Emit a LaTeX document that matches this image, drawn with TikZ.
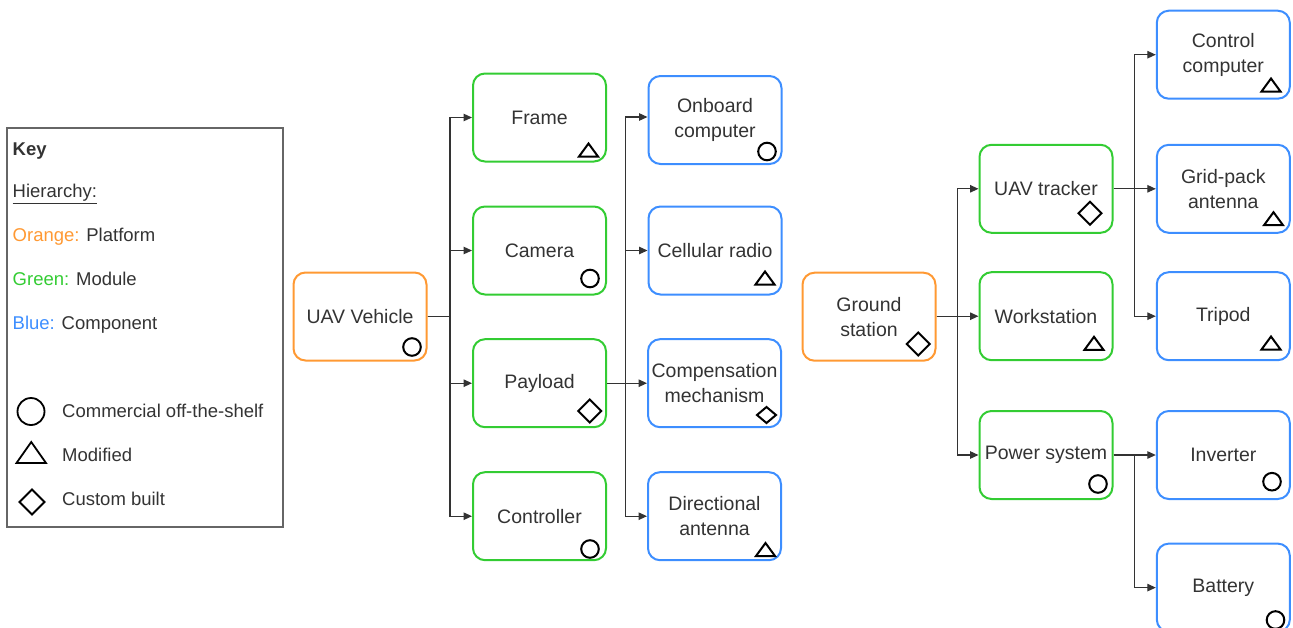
\documentclass[tikz,border=0pt]{standalone}
\usepackage{fontspec}
\setmainfont{Liberation Sans}
\usetikzlibrary{arrows.meta,calc}

\definecolor{plat}{HTML}{FF9933}
\definecolor{modc}{HTML}{33CC33}
\definecolor{comp}{HTML}{3D8EFF}
\definecolor{ink}{HTML}{333333}
\definecolor{wirec}{HTML}{333333}
\definecolor{keyline}{HTML}{666666}

\tikzset{
  box/.style={draw, rounded corners=12pt, line width=2pt, minimum width=133pt,
    minimum height=88pt, inner sep=0pt, align=center, text=ink,
    font=\fontsize{19.5}{25}\selectfont},
  platform/.style={box, draw=plat},
  module/.style={box, draw=modc},
  part/.style={box, draw=comp},
  wire/.style={draw=wirec, line width=1.2pt, -{Triangle[length=8.5pt,width=7.5pt]}},
  sym/.style={draw=black, line width=2pt, line join=miter},
  keytext/.style={anchor=base west, inner sep=0pt, text=ink,
    font=\fontsize{18.5}{22}\selectfont},
  cotsmark/.pic={\draw[sym] (0,0) circle[radius=8.8];},
  modmark/.pic={\draw[sym] (-9.5,6.5) -- (9.5,6.5) -- (0,-6.5) -- cycle;},
  custmark/.pic={\draw[sym] (-11.5,0) -- (0,-11.5) -- (11.5,0) -- (0,11.5) -- cycle;},
  smallcustmark/.pic={\draw[sym] (-9.5,0) -- (0,-8) -- (9.5,0) -- (0,8) -- cycle;},
}

\begin{document}
\begin{tikzpicture}[x=1pt,y=-1pt]
\useasboundingbox (0,0) rectangle (1293,627);
\clip (0,0) rectangle (1293,627);

% ---------- key ----------
\node[draw=keyline, line width=1.3pt, minimum width=276pt, minimum height=399pt,
      inner sep=0pt] (key) at (145,327.5) {};
\node[keytext, font=\fontsize{18.5}{22}\selectfont\bfseries] (kt) at (12.5,155) {Key};
\node[keytext] (kh) at (12.5,197.5) {\underline{Hierarchy:}};
\node[keytext] (ko) at (12.5,241.5) {\textcolor{plat}{Orange:} Platform};
\node[keytext] (kg) at (12.5,285.5) {\textcolor{modc}{Green:} Module};
\node[keytext] (kb) at (12.5,329) {\textcolor{comp}{Blue:} Component};
\node[keytext] (kc) at (62,417.5) {Commercial off-the-shelf};
\node[keytext] (km) at (62,461.5) {Modified};
\node[keytext] (kx) at (62,505) {Custom built};
\draw[sym, line width=1.8pt] (31,411.5) circle[radius=13.5];
\draw[sym, line width=1.8pt] (16.5,463) -- (46,463) -- (31.25,442) -- cycle;
\draw[sym, line width=1.8pt] (19.5,502) -- (32,489.5) -- (44.5,502) -- (32,514.5) -- cycle;

% ---------- UAV vehicle branch ----------
\node[platform] (uav) at (360,316.5) {UAV Vehicle};
\node[module] (frame) at (539.5,117.5) {Frame};
\node[module] (camera) at (539.5,250.5) {Camera};
\node[module] (payload) at (539.5,383.2) {Payload};
\node[module] (ctrl) at (539.5,516.2) {Controller};
\node[part] (onboard) at (715,120) {Onboard\\computer};
\node[part] (cell) at (715,250.5) {Cellular radio};
\node[part] (comp) at (714.5,383.2) {Compensation\\mechanism};
\node[part] (dirant) at (714.5,516.2) {Directional\\antenna};

% ---------- ground station branch ----------
\node[platform] (ground) at (869,316.7) {Ground\\station};
\node[module] (tracker) at (1046,188.8) {UAV tracker};
\node[module] (work) at (1046,316.2) {Workstation};
\node[module] (power) at (1046,455) {Power system};
\node[part] (ctrlpc) at (1223.3,54.7) {Control\\computer};
\node[part] (grid) at (1223.3,188.8) {Grid-pack\\antenna};
\node[part] (tripod) at (1223.3,316.2) {Tripod};
\node[part] (inv) at (1223.3,455) {Inverter};
\node[part] (batt) at (1223.3,587.6) {Battery};

% ---------- build-type marks ----------
\pic at (412,347) {cotsmark};
\pic at (588.5,150) {modmark};
\pic at (590,278.5) {cotsmark};
\pic at (589.7,411) {custmark};
\pic at (590,549) {cotsmark};
\pic at (767,151.5) {cotsmark};
\pic at (765,278) {modmark};
\pic at (766.5,415) {smallcustmark};
\pic at (765.5,549.5) {modmark};
\pic at (918.3,344) {custmark};
\pic at (1090,213.3) {custmark};
\pic at (1094,343.3) {modmark};
\pic at (1098,484) {cotsmark};
\pic at (1271,85) {modmark};
\pic at (1273.5,218.7) {modmark};
\pic at (1271,343) {modmark};
\pic at (1272,481.7) {cotsmark};
\pic at (1275.5,620) {cotsmark};

% ---------- connectors ----------
\coordinate (j1) at (450,316.5);
\foreach \t in {frame,camera,payload,ctrl}
  \draw[wire] (uav.east) -- (j1) |- (\t.west);

\coordinate (j2) at (625.7,383.2);
\draw[wire] (payload.east) -- (j2) |- ($(onboard.west)+(0,-3)$);
\foreach \t in {cell,comp,dirant}
  \draw[wire] (payload.east) -- (j2) |- (\t.west);

\coordinate (j3) at (957.7,316.7);
\foreach \t in {tracker,work,power}
  \draw[wire] (ground.east) -- (j3) |- (\t.west);

\coordinate (j4) at (1134.3,188.8);
\foreach \t in {ctrlpc,grid,tripod}
  \draw[wire] (tracker.east) -- (j4) |- (\t.west);

\coordinate (j5) at (1134.3,455);
\foreach \t in {inv,batt}
  \draw[wire] (power.east) -- (j5) |- (\t.west);
\end{tikzpicture}
\end{document}
